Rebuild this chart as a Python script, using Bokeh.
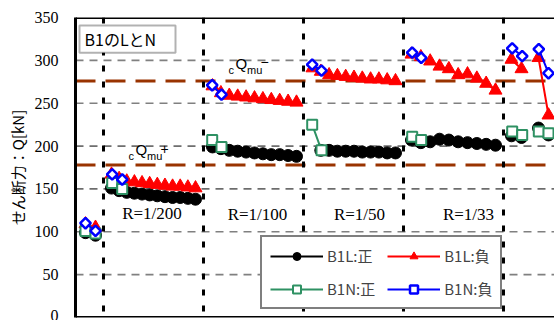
import numpy as np
from bokeh.plotting import figure
from bokeh.models import (Range1d, Span, Label, BoxAnnotation, Legend, LegendItem,
                          FixedTicker)
from bokeh.embed import file_html
from bokeh.resources import INLINE

# ---------------- data ----------------
y_ticks = [0, 50, 100, 150, 200, 250, 300, 350]
gray_grid = [50, 100, 250, 300]
black_grid = [150, 200]
boundaries = [0, 10, 20, 30, 40]          # amplitude-change positions
cQmu_pos = 178                             # cQmu+
cQmu_neg = 276                             # cQmu-
amp_labels = ["R=1/200", "R=1/100", "R=1/50", "R=1/33"]
amp_label_x = [4.85, 15.4, 25.6, 36.5]
amp_label_y = [121, 120, 120, 120]

# x positions (cycle position) of each group
x_pre = [-1.8, -0.8]
x_200 = list(np.linspace(0.8, 9.2, 12))
x_100 = list(np.linspace(10.9, 19.3, 11))
x_50 = list(np.linspace(20.9, 29.2, 11))
x_33 = list(np.linspace(30.8, 39.2, 10))
x_b1 = [40.8, 41.8]
x_b2 = [43.5, 44.5]
xn_200 = [0.87, 1.87]
xn_100 = [10.87, 11.8]
xn_50 = [20.87, 21.8]
xn_33 = [30.87, 31.77]
xn_b1 = [40.87, 41.87]
xn_b2 = [43.53, 44.5]

# B1L positive (circles)
L_pos_pre = [99, 96]
L_pos_200 = [151, 148, 146, 145, 144, 143, 142, 141, 140, 140, 139, 138]
L_pos_100 = [199, 197, 195, 194, 193, 192, 191, 190, 190, 189, 188]
L_pos_50 = [None, 195, 195, 194, 194, 194, 193, 193, 193, 192, 192]
L_pos_33 = [207, 204, 205, 208, 207, 205, 204, 203, 202, 201]
L_pos_b1 = [212, 210]
L_pos_b2 = [221, 213]

# B1L negative (triangles)
L_neg_pre = [109, 105]
L_neg_200 = [167, 162, 159, 158, 157, 156, 155, 154, 153, 153, 152, 151]
L_neg_100 = [270, 262, 259, 258, 257, 256, 255, 254, 253, 252, 251]
L_neg_50 = [291, 287, 283, 282, 281, 280, 279, 278, 278, 277, 276]
L_neg_33 = [307, 304, 299, 293, 290, 283, 284, 279, 273, 265]
L_neg_b1 = [301, 290]
L_neg_b2 = [303, 236]

# B1N positive (squares)
N_pos_pre = [101, 98]
N_pos_200 = [157, 150]
N_pos_100 = [207, 199]
N_pos_50 = [225, 195]
N_pos_33 = [211, 207]
N_pos_b1 = [217, 213]
N_pos_b2 = [217, 215]

# B1N negative (diamonds)
N_neg_pre = [110, 101]
N_neg_200 = [167, 161]
N_neg_100 = [271, 260]
N_neg_50 = [295, 288]
N_neg_33 = [309, 303]
N_neg_b1 = [314, 305]
N_neg_b2 = [313, 285]


def join(groups):
    xs, ys = [], []
    for i, (gx, gy) in enumerate(groups):
        if i:
            xs.append(np.nan)
            ys.append(np.nan)
        xs += list(gx)
        ys += [np.nan if v is None else v for v in gy]
    return xs, ys


Lp = join([(x_pre, L_pos_pre), (x_200, L_pos_200), (x_100, L_pos_100), (x_50, L_pos_50),
           (x_33, L_pos_33), (x_b1, L_pos_b1), (x_b2, L_pos_b2)])
Ln = join([(x_pre, L_neg_pre), (x_200, L_neg_200), (x_100, L_neg_100), (x_50, L_neg_50),
           (x_33, L_neg_33), (x_b1, L_neg_b1), (x_b2, L_neg_b2)])
Np = join([(x_pre, N_pos_pre), (xn_200, N_pos_200), (xn_100, N_pos_100), (xn_50, N_pos_50),
           (xn_33, N_pos_33), (xn_b1, N_pos_b1), (xn_b2, N_pos_b2)])
Nn = join([(x_pre, N_neg_pre), (xn_200, N_neg_200), (xn_100, N_neg_100), (xn_50, N_neg_50),
           (xn_33, N_neg_33), (xn_b1, N_neg_b1), (xn_b2, N_neg_b2)])

GREEN = "#2e9163"
BROWN = "#993300"

p = figure(width=554, height=320, output_backend="svg", toolbar_location=None,
           x_range=Range1d(-2.8, 45.1), y_range=Range1d(0, 350),
           x_axis_location=None,
           min_border_left=75, min_border_top=17, min_border_bottom=3, min_border_right=0)
p.outline_line_color = None
p.xgrid.visible = False
p.ygrid.visible = False

# y axis
ya = p.yaxis[0]
ya.ticker = FixedTicker(ticks=y_ticks)
ya.major_label_text_font = "Liberation Serif"
ya.major_label_text_font_size = "16px"
ya.major_label_text_color = "black"
ya.major_tick_line_color = None
ya.minor_tick_line_color = None
ya.major_tick_out = 0
ya.major_tick_in = 0
ya.minor_tick_out = 0
ya.minor_tick_in = 0
ya.major_label_standoff = 17
ya.axis_line_width = 3
ya.axis_line_color = "black"
ya.axis_label = "せん断力：Q[kN]"
ya.axis_label_text_font = "Noto Sans CJK JP"
ya.axis_label_text_font_size = "15px"
ya.axis_label_text_font_style = "normal"
ya.axis_label_text_color = "black"
ya.axis_label_standoff = 4

# frame top / bottom lines
p.add_layout(Span(location=350, dimension="width", line_color="black", line_width=3))
p.add_layout(Span(location=0, dimension="width", line_color="black", line_width=3))

# grid-like dashed lines
for v in gray_grid:
    p.add_layout(Span(location=v, dimension="width", line_color="#808080",
                      line_width=1.6, line_dash="8 6", level="underlay"))
for v in black_grid:
    p.add_layout(Span(location=v, dimension="width", line_color="black",
                      line_width=1, line_dash="8 6", level="underlay"))
for v in (cQmu_pos, cQmu_neg):
    p.add_layout(Span(location=v, dimension="width", line_color=BROWN,
                      line_width=3, line_dash="20 10", level="underlay"))
for b in boundaries:
    p.add_layout(Span(location=b, dimension="height", line_color="black",
                      line_width=3, line_dash="6 10", level="underlay"))

# series
r1l = p.line(Lp[0], Lp[1], line_color="black", line_width=2)
r1s = p.scatter(Lp[0], Lp[1], marker="circle", size=12, fill_color="black", line_color="black")
r2l = p.line(Ln[0], Ln[1], line_color="red", line_width=2)
r2s = p.scatter(Ln[0], Ln[1], marker="triangle", size=13, fill_color="red", line_color="red")
r3l = p.line(Np[0], Np[1], line_color=GREEN, line_width=2)
r3s = p.scatter(Np[0], Np[1], marker="square", size=10, fill_color="white",
                line_color=GREEN, line_width=2)
r4l = p.line(Nn[0], Nn[1], line_color="blue", line_width=2)
r4s = p.scatter(Nn[0], Nn[1], marker="square", size=7.5, angle=np.pi / 4,
                fill_color="white", line_color="blue", line_width=2.5)

# amplitude labels
for t, lx, ly in zip(amp_labels, amp_label_x, amp_label_y):
    p.add_layout(Label(x=lx, y=ly, text=t, text_font="Liberation Serif",
                       text_font_size="17px", text_align="center",
                       text_baseline="middle", text_color="black"))


# cQmu labels
def cq_label(x0, yq, sign, sign_dy):
    p.add_layout(Label(x=x0, y=yq - 7, text="c", text_font="Liberation Sans",
                       text_font_size="11px", text_baseline="middle", text_color="black"))
    p.add_layout(Label(x=x0 + 0.7, y=yq, text="Q", text_font="Liberation Sans",
                       text_font_size="15px", text_baseline="middle", text_color="black"))
    p.add_layout(Label(x=x0 + 1.85, y=yq - 7, text="mu", text_font="Liberation Sans",
                       text_font_size="11px", text_baseline="middle", text_color="black"))
    p.add_layout(Label(x=x0 + 3.2, y=yq + sign_dy, text=sign, text_font="Liberation Sans",
                       text_font_size="14px", text_baseline="middle", text_color="black"))


cq_label(2.5, 196, "+", 1)
cq_label(12.5, 296, "−", 2)

# title box
p.add_layout(BoxAnnotation(left=-2.4, right=7.2, bottom=309, top=340.7,
                           fill_color="white", fill_alpha=1.0,
                           line_color="black", line_width=2))
p.add_layout(Label(x=-1.9, y=325, text="B1のLとN", text_font="Noto Sans CJK JP",
                   text_font_size="16px", text_baseline="middle", text_color="black"))

legend = Legend(items=[
    LegendItem(label="B1L:正", renderers=[r1l, r1s]),
    LegendItem(label="B1N:正", renderers=[r3l, r3s]),
    LegendItem(label="B1L:負", renderers=[r2l, r2s]),
    LegendItem(label="B1N:負", renderers=[r4l, r4s]),
], ncols=2, location=(185, 8), label_text_font="Noto Sans CJK JP",
    label_text_font_size="15px", glyph_width=53, glyph_height=20,
    label_standoff=4, spacing=12, padding=8, margin=0,
    border_line_color="black", border_line_width=2.5,
    background_fill_color="white", background_fill_alpha=1.0)
p.add_layout(legend, "center")

open("out.html", "w").write(file_html(p, INLINE))
